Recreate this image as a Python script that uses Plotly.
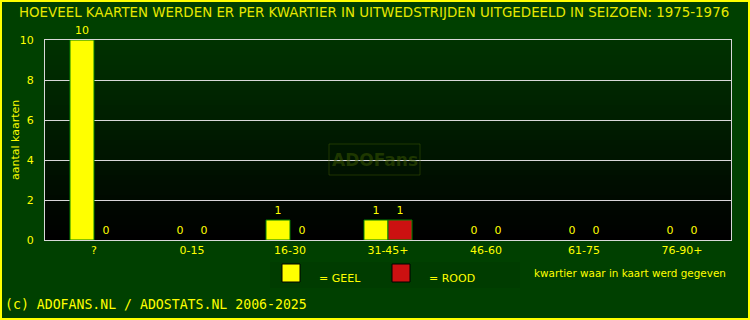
import plotly.graph_objects as go

categories = ["?", "0-15", "16-30", "31-45+", "46-60", "61-75", "76-90+"]
geel = [10, 0, 1, 1, 0, 0, 0]
rood = [0, 0, 0, 1, 0, 0, 0]
y_ticks = [0, 2, 4, 6, 8, 10]

TXT = "#FFFF00"
FONT = "DejaVu Sans"

fig = go.Figure()
fig.add_trace(go.Bar(
    x=categories, y=geel, name="GEEL",
    marker=dict(color="#FFFF00",
                line=dict(color="#008000", width=[1 if v else 0 for v in geel])),
    text=[str(v) for v in geel], textposition="outside", cliponaxis=False,
    textfont=dict(color=TXT, size=11, family=FONT),
))
fig.add_trace(go.Bar(
    x=categories, y=rood, name="ROOD",
    marker=dict(color="#CC1111",
                line=dict(color="#008000", width=[1 if v else 0 for v in rood])),
    text=[str(v) for v in rood], textposition="outside", cliponaxis=False,
    textfont=dict(color=TXT, size=11, family=FONT),
))

def px(xp):
    return (xp - 45) / 686
def py(yp):
    return (240 - yp) / 200

# gradient plot background (style only): green at top, black at bottom
shapes = []
n = 40
for i in range(n):
    f = i / (n - 1)
    g = int(round(50 * f))
    shapes.append(dict(type="rect", xref="x domain", yref="y domain",
                       x0=0, x1=1, y0=i / n, y1=(i + 1) / n,
                       fillcolor=f"rgb(0,{g},0)", line=dict(width=0), layer="below"))
# outer yellow border (pixel-based)
shapes.append(dict(type="rect", xref="paper", yref="paper", x0=px(1), x1=px(749),
                   y0=py(319), y1=py(1),
                   line=dict(color="#FFFF00", width=2), fillcolor="rgba(0,0,0,0)"))
# legend area + squares
shapes.append(dict(type="rect", xref="paper", yref="paper", x0=px(270), x1=px(520),
                   y0=py(288), y1=py(262), fillcolor="#003C00", line=dict(width=0), layer="below"))
shapes.append(dict(type="rect", xref="paper", yref="paper", x0=px(282), x1=px(300),
                   y0=py(282), y1=py(264), fillcolor="#FFFF00", line=dict(color="#000000", width=1)))
shapes.append(dict(type="rect", xref="paper", yref="paper", x0=px(392), x1=px(410),
                   y0=py(282), y1=py(264), fillcolor="#CC1111", line=dict(color="#000000", width=1)))
# watermark box
shapes.append(dict(type="rect", xref="paper", yref="paper", x0=px(329), x1=px(420),
                   y0=py(175), y1=py(144), fillcolor="rgba(0,0,0,0)",
                   line=dict(color="rgba(60,90,0,0.5)", width=1)))

annotations = [
    dict(text="HOEVEEL KAARTEN WERDEN ER PER KWARTIER IN UITWEDSTRIJDEN UITGEDEELD IN SEIZOEN: 1975-1976",
         xref="paper", yref="paper", x=px(17), y=py(12), xanchor="left", yanchor="middle",
         showarrow=False, font=dict(color="#E8E800", size=13.4, family=FONT)),
    dict(text="aantal kaarten", xref="paper", yref="paper", x=px(15), y=py(140),
         textangle=-90, xanchor="center", yanchor="middle", showarrow=False,
         font=dict(color=TXT, size=11, family=FONT)),
    dict(text="kwartier waar in kaart werd gegeven", xref="paper", yref="paper",
         x=px(728), y=py(273), xanchor="right", yanchor="middle", showarrow=False,
         font=dict(color=TXT, size=10.4, family=FONT)),
    dict(text="= GEEL", xref="paper", yref="paper", x=px(317), y=py(278),
         xanchor="left", yanchor="middle", showarrow=False,
         font=dict(color=TXT, size=11, family=FONT)),
    dict(text="= ROOD", xref="paper", yref="paper", x=px(427), y=py(278),
         xanchor="left", yanchor="middle", showarrow=False,
         font=dict(color=TXT, size=11, family=FONT)),
    dict(text="(c) ADOFANS.NL / ADOSTATS.NL 2006-2025", xref="paper", yref="paper",
         x=px(3), y=py(304), xanchor="left", yanchor="middle", showarrow=False,
         font=dict(color=TXT, size=13.2, family="DejaVu Sans Mono")),
    dict(text="<b>ADOFans</b>", xref="paper", yref="paper", x=px(375), y=py(160),
         xanchor="center", yanchor="middle", showarrow=False,
         font=dict(color="rgba(60,90,0,0.5)", size=17, family=FONT)),
]

fig.update_layout(
    width=750, height=320,
    margin=dict(l=45, r=19, t=40, b=80),
    paper_bgcolor="#004000",
    plot_bgcolor="rgba(0,0,0,0)",
    barmode="group", bargap=0.51, bargroupgap=0,
    showlegend=False,
    shapes=shapes, annotations=annotations,
    font=dict(family=FONT, color=TXT, size=11),
    xaxis=dict(showline=True, mirror=True, linecolor="#D8D8D8", linewidth=1,
               ticks="", tickfont=dict(color=TXT, size=11, family=FONT),
               showgrid=False, fixedrange=True),
    yaxis=dict(range=[0, 10], tickvals=y_ticks, showline=True, mirror=True,
               linecolor="#D8D8D8", linewidth=1, gridcolor="#D8D8D8", gridwidth=1,
               ticks="", ticklabelstandoff=8, tickfont=dict(color=TXT, size=11, family=FONT),
               zeroline=False, fixedrange=True),
)

fig.write_html("out.html")
